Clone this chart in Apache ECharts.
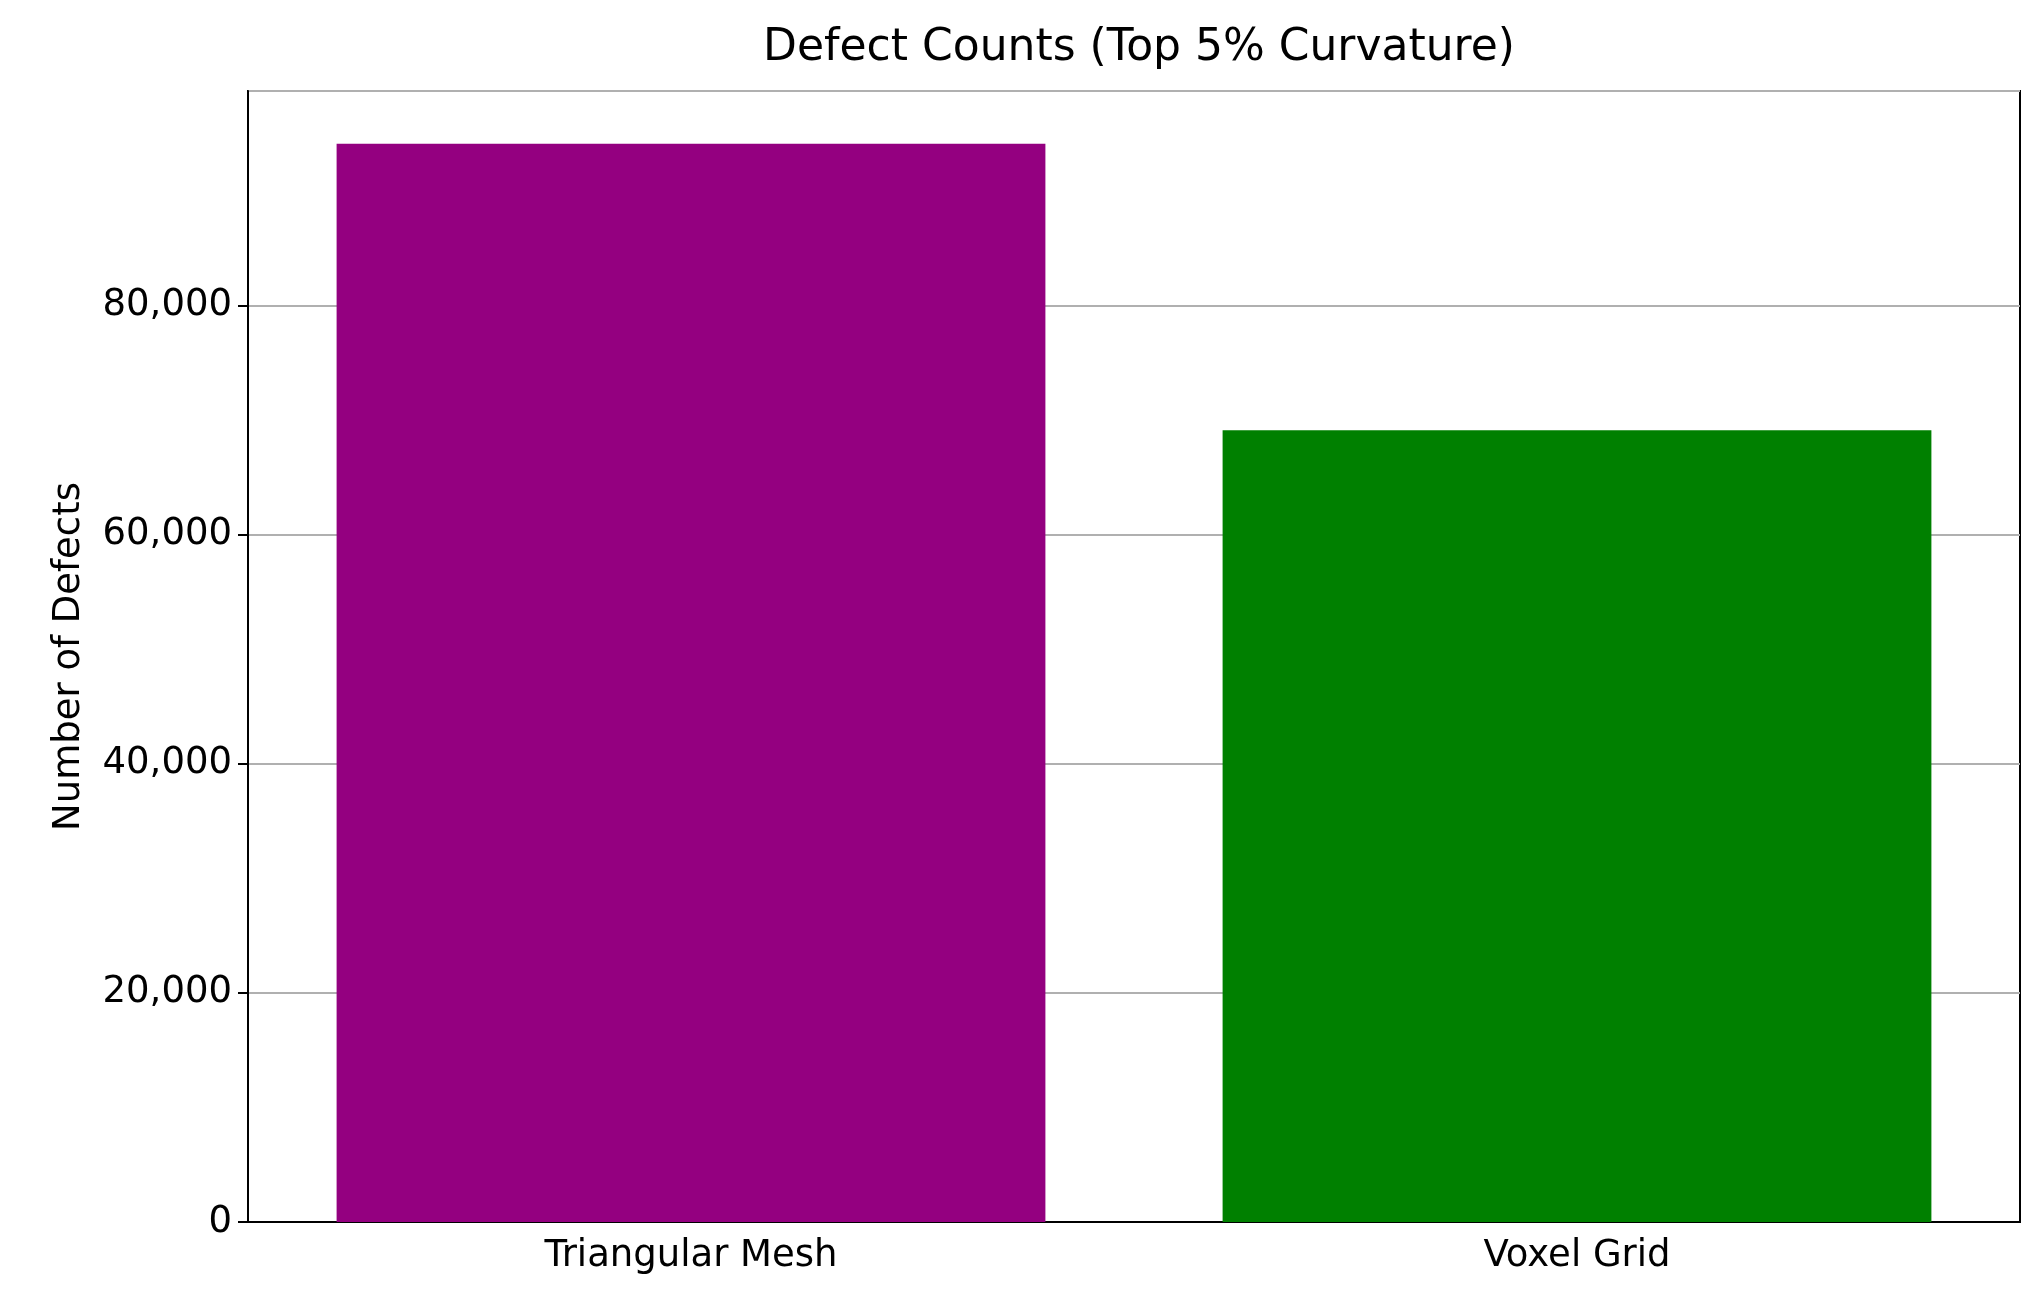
<!DOCTYPE html>
<html>
<head>
<meta charset="utf-8">
<script src="https://cdn.jsdelivr.net/npm/echarts@6/dist/echarts.min.js"></script>
<style>html,body{margin:0;padding:0;background:#fff}#chart{width:2043px;height:1314px}</style>
</head>
<body>
<div id="chart"></div>
<script>
var categories = ['Triangular Mesh', 'Voxel Grid'];
var defects = [94100, 69100];
var barColors = ['#940080', '#008000'];

var chart = echarts.init(document.getElementById('chart'));
var font = 'DejaVu Sans';
chart.setOption({
  animation: false,
  title: {
    text: 'Defect Counts (Top 5% Curvature)',
    left: 1134, top: 22, textAlign: 'center',
    textStyle: { fontFamily: font, fontSize: 44, fontWeight: 'normal', color: '#000' }
  },
  grid: { left: 248, right: 23, top: 91, bottom: 92, show: true, borderColor: '#000', borderWidth: 2 },
  xAxis: {
    type: 'category', data: categories,
    axisLine: { lineStyle: { color: '#000', width: 2 } },
    axisTick: { alignWithLabel: true, length: 10, lineStyle: { color: '#000', width: 2 } },
    axisLabel: { fontFamily: font, fontSize: 37, color: '#000', margin: 16 }
  },
  yAxis: {
    type: 'value', min: 0, max: 98700, interval: 20000,
    name: 'Number of Defects', nameLocation: 'middle', nameGap: 160,
    nameTextStyle: { fontFamily: font, fontSize: 37, color: '#000' },
    axisLine: { show: true, lineStyle: { color: '#000', width: 2 } },
    axisTick: { show: true, length: 10, lineStyle: { color: '#000', width: 2 } },
    axisLabel: { fontFamily: font, fontSize: 37, color: '#000', margin: 16, showMaxLabel: false },
    splitLine: { lineStyle: { color: '#b0b0b0', width: 2 } }
  },
  series: [{
    type: 'bar', barCategoryGap: '20%',
    data: defects.map(function (v, i) { return { value: v, itemStyle: { color: barColors[i] } }; })
  }]
});
</script>
</body>
</html>
